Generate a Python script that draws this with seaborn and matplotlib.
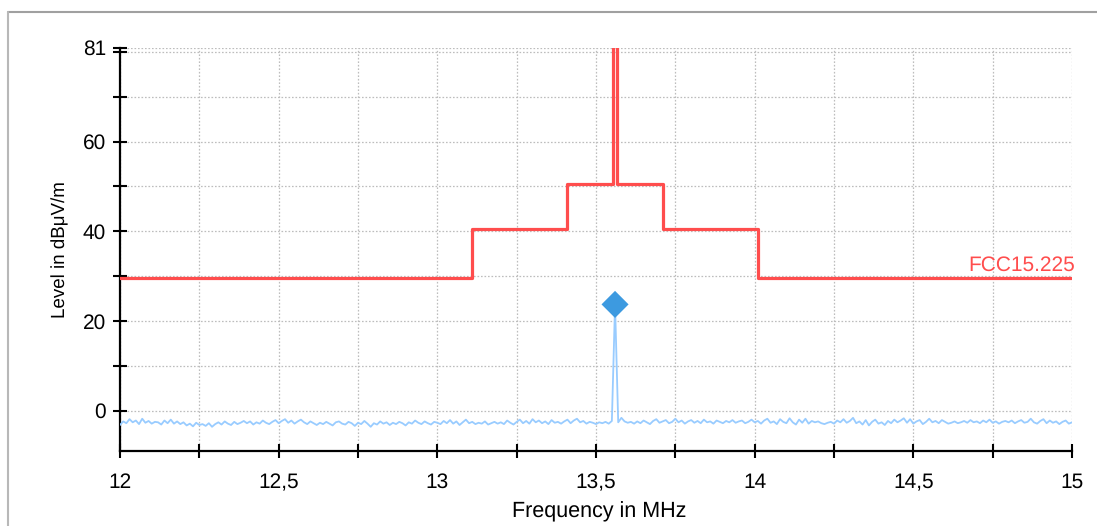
import numpy as np
import pandas as pd
import matplotlib
matplotlib.use("Agg")
import matplotlib.pyplot as plt
from matplotlib.lines import Line2D
from matplotlib.ticker import FixedLocator
import seaborn as sns

# FCC 15.225 limit line (step edges, MHz / dBuV/m)
limit_freq = [12.0, 13.11, 13.41, 13.553, 13.567, 13.71, 14.01, 15.0]
limit_level = [29.5, 40.5, 50.5, 84.0, 50.5, 40.5, 29.5, 29.5]
limit_name = "FCC15.225"

trace_level = [
    -3.2, -2.4, -2.8, -1.9, -2.6, -2.2, -3.0, -1.8, -2.7, -2.3, -2.9, -2.5, -2.6, -3.1, -2.2, -2.8, -2.0, -2.9, -2.4, -3.0,
    -2.6, -3.3, -2.9, -3.5, -2.7, -3.2, -3.0, -3.4, -2.8, -3.6, -3.0, -2.6, -3.1, -2.4, -2.9, -3.2, -2.5, -3.0, -2.7, -2.3,
    -2.8, -2.4, -3.1, -2.6, -2.9, -2.2, -2.7, -3.0, -2.5, -2.1, -2.8, -2.3, -1.9, -2.7, -2.2, -2.9, -2.4, -2.0, -2.6, -3.0,
    -2.4, -2.8, -3.2, -2.7, -3.0, -2.5, -2.9, -3.3, -2.6, -2.4, -2.9, -3.1, -2.5, -2.8, -3.4, -2.7, -3.0, -2.3, -2.9, -3.6,
    -2.8, -3.1, -2.4, -2.9, -2.6, -3.2, -2.7, -3.0, -2.5, -2.8, -3.3, -2.6, -2.9, -2.2, -2.7, -3.0, -2.4, -2.8, -3.1, -2.5,
    -2.7, -3.0, -2.3, -2.8, -2.1, -2.9, -2.4, -3.2, -2.6, -2.0, -2.8, -2.5, -3.0, -2.7, -2.9, -2.4, -3.1, -2.8, -2.5, -2.9,
    -2.6, -3.0, -2.2, -2.7, -3.1, -2.5, -2.0, -2.8, -2.3, -2.9, -1.9, -2.6, -2.2, -2.8, -2.4, -3.0, -2.1, -2.7, -2.5, -2.9,
    -2.4, -2.0, -2.8, -2.2, -1.8, -2.6, -2.3, -2.9, -2.5, -2.7, -3.0, -2.6, -2.8, -2.5, -2.9, -2.3, 23.7, -2.6, -1.6, -2.4,
    -2.7, -2.5, -2.9, -2.4, -2.8, -2.2, -2.6, -3.0, -2.3, -1.9, -2.7, -2.4, -2.1, -2.8, -2.5, -1.8, -2.6, -2.2, -2.9, -2.4,
    -2.1, -2.7, -2.3, -2.8, -2.0, -2.6, -2.4, -2.9, -2.2, -2.5, -2.8, -2.3, -2.6, -2.1, -2.7, -2.4, -2.2, -2.8, -2.5, -2.0,
    -2.6, -2.3, -2.9, -2.2, -1.8, -2.7, -2.4, -3.0, -1.9, -2.5, -2.8, -1.7, -2.6, -3.1, -2.0, -2.7, -1.8, -2.9, -2.3, -2.6,
    -2.4, -2.8, -3.0, -2.7, -2.5, -2.9, -2.2, -2.6, -1.9, -2.7, -2.3, -1.6, -2.8, -2.4, -3.1, -2.1, -3.3, -2.5, -2.0, -2.9,
    -2.6, -3.2, -2.3, -2.8, -2.0, -2.6, -2.2, -1.7, -2.7, -1.9, -2.9, -2.4, -2.1, -3.0, -2.5, -1.8, -2.6, -2.3, -2.8, -2.1,
    -2.5, -2.9, -2.7, -2.4, -2.8, -2.6, -2.3, -2.7, -2.1, -2.6, -2.4, -2.8, -2.2, -2.6, -2.0, -2.7, -2.4, -2.9, -2.5, -2.3,
    -2.6, -2.2, -2.8, -2.4, -2.1, -2.7, -2.5, -1.8, -2.6, -2.9, -2.3, -1.9, -2.8, -2.2, -2.7, -2.4, -3.0, -2.5, -2.2, -2.9,
    -2.6,
]
trace_freq = np.linspace(12.0, 15.0, len(trace_level))

# peak marker
peak_freq = [13.56]
peak_level = [23.7]

x_major = [12.0, 12.5, 13.0, 13.5, 14.0, 14.5, 15.0]
x_minor = [12.25, 12.75, 13.25, 13.75, 14.25, 14.75]
x_tick_labels = ["12", "12,5", "13", "13,5", "14", "14,5", "15"]
y_major = [0, 20, 40, 60, 81]
y_minor = [10, 30, 50, 70, 80]
y_tick_labels = ["0", "20", "40", "60", "81"]

sns.set_style("white")
plt.rcParams["font.family"] = ["Liberation Sans", "DejaVu Sans"]
plt.rcParams["text.color"] = "black"
plt.rcParams["axes.labelcolor"] = "black"
plt.rcParams["text.hinting"] = "none"

fig = plt.figure(figsize=(10.97, 5.26), dpi=100)
ax = fig.add_axes([120 / 1097, 1 - 451 / 526, 952 / 1097, (451 - 47.5) / 526])

trace_df = pd.DataFrame({"freq": trace_freq, "level": trace_level})
limit_df = pd.DataFrame({"freq": limit_freq, "level": limit_level})

sns.lineplot(data=trace_df, x="freq", y="level", ax=ax, color="#99ccff",
             linewidth=1.3, estimator=None, sort=False, zorder=3)
sns.lineplot(data=limit_df, x="freq", y="level", ax=ax, color="#ff4d4d",
             linewidth=2.3, estimator=None, sort=False, drawstyle="steps-post", zorder=4)
sns.scatterplot(x=peak_freq, y=peak_level, ax=ax, marker="D", s=190,
                color="#3d9ae0", edgecolor="none", zorder=5)

ax.text(15.01, limit_level[-1] + 0.8, limit_name, color="#ff4d4d", fontsize=15,
        ha="right", va="bottom", clip_on=False)

ax.set_xlim(12, 15)
ax.set_ylim(-9, 81)

ax.xaxis.set_major_locator(FixedLocator(x_major))
ax.xaxis.set_minor_locator(FixedLocator(x_minor))
ax.yaxis.set_major_locator(FixedLocator(y_major))
ax.yaxis.set_minor_locator(FixedLocator(y_minor))
ax.set_yticklabels(y_tick_labels)
ax.set_xticklabels([])

# x labels drawn one by one on a common baseline
for xv, lab in zip(x_major, x_tick_labels):
    ax.text(xv, -0.092, lab, transform=ax.get_xaxis_transform(), fontsize=15,
            ha="center", va="baseline", color="black")

ax.grid(which="both", color="#bdbdbd", linestyle=(0, (1.3, 1.5)), linewidth=0.9)
ax.set_axisbelow(True)

for side in ["top", "right"]:
    ax.spines[side].set_visible(False)
for side in ["left", "bottom"]:
    ax.spines[side].set_color("black")
    ax.spines[side].set_linewidth(1.6)

ax.tick_params(axis="both", which="both", direction="inout", length=10,
               width=1.5, color="black", labelcolor="black",
               bottom=True, left=True, top=False, right=False)
ax.tick_params(axis="y", which="both", pad=5, labelsize=15)

ax.set_xlabel("Frequency in MHz", fontsize=15.5)
ax.set_ylabel("Level in dBμV/m", fontsize=13.5)
ax.xaxis.set_label_coords(0.503, -0.125)
ax.yaxis.set_label_coords(-0.053, 0.5)

# panel border like the original window
fig.add_artist(Line2D([8 / 1097, 1], [1 - 12 / 526, 1 - 12 / 526], color="#a0a0a0", linewidth=1.5))
fig.add_artist(Line2D([8 / 1097, 8 / 1097], [0, 1 - 12 / 526], color="#b8b8b8", linewidth=1.5))

fig.savefig("out.png", dpi=100)
